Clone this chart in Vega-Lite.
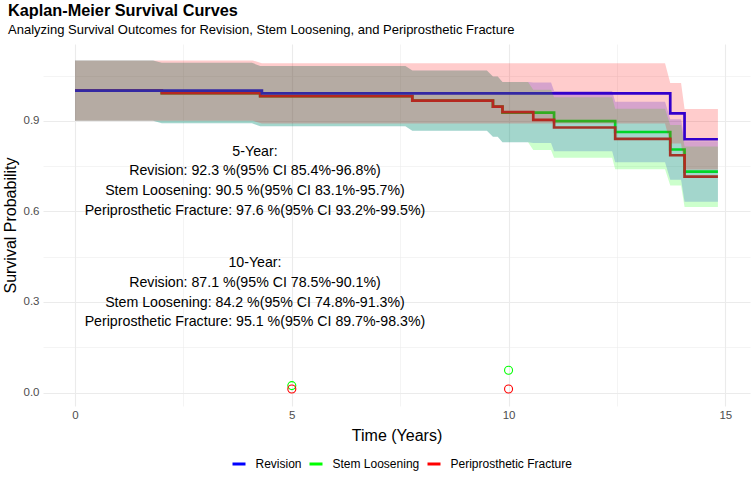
{
  "$schema": "https://vega.github.io/schema/vega-lite/v6.json",
  "width": 707,
  "height": 362,
  "autosize": {"type": "none"},
  "padding": {"left": 43, "top": 44, "right": 3, "bottom": 77},
  "background": "white",
  "config": {"view": {"stroke": null}},
  "title": {
    "text": "Kaplan-Meier Survival Curves",
    "subtitle": "Analyzing Survival Outcomes for Revision, Stem Loosening, and Periprosthetic Fracture",
    "anchor": "start",
    "frame": "group",
    "dx": -35,
    "offset": 7,
    "font": "Liberation Sans",
    "fontSize": 16.3,
    "fontWeight": "bold",
    "color": "black",
    "subtitleFont": "Liberation Sans",
    "subtitleFontSize": 13,
    "subtitleColor": "black",
    "subtitlePadding": 5
  },
  "datasets": {
    "lines": [
      {"series": "Stem Loosening", "t": 0, "y": 1.0},
      {"series": "Stem Loosening", "t": 2.0, "y": 0.992},
      {"series": "Stem Loosening", "t": 4.27, "y": 0.982},
      {"series": "Stem Loosening", "t": 7.78, "y": 0.967},
      {"series": "Stem Loosening", "t": 9.64, "y": 0.947},
      {"series": "Stem Loosening", "t": 9.86, "y": 0.927},
      {"series": "Stem Loosening", "t": 11.05, "y": 0.899},
      {"series": "Stem Loosening", "t": 12.46, "y": 0.863},
      {"series": "Stem Loosening", "t": 13.73, "y": 0.805},
      {"series": "Stem Loosening", "t": 14.06, "y": 0.732},
      {"series": "Stem Loosening", "t": 14.83, "y": 0.732},
      {"series": "Periprosthetic Fracture", "t": 0, "y": 1.0},
      {"series": "Periprosthetic Fracture", "t": 2.0, "y": 0.992},
      {"series": "Periprosthetic Fracture", "t": 4.27, "y": 0.982},
      {"series": "Periprosthetic Fracture", "t": 7.78, "y": 0.967},
      {"series": "Periprosthetic Fracture", "t": 9.64, "y": 0.947},
      {"series": "Periprosthetic Fracture", "t": 9.86, "y": 0.929},
      {"series": "Periprosthetic Fracture", "t": 10.57, "y": 0.903},
      {"series": "Periprosthetic Fracture", "t": 11.05, "y": 0.878},
      {"series": "Periprosthetic Fracture", "t": 12.46, "y": 0.84},
      {"series": "Periprosthetic Fracture", "t": 13.73, "y": 0.786},
      {"series": "Periprosthetic Fracture", "t": 14.06, "y": 0.715},
      {"series": "Periprosthetic Fracture", "t": 14.83, "y": 0.715},
      {"series": "Revision", "t": 0, "y": 1.0},
      {"series": "Revision", "t": 4.31, "y": 0.991},
      {"series": "Revision", "t": 13.73, "y": 0.925},
      {"series": "Revision", "t": 14.06, "y": 0.839},
      {"series": "Revision", "t": 14.83, "y": 0.839}
    ],
    "ribbons": [
      {"series": "Revision", "t": 0, "lo": 0.9, "hi": 1.1},
      {"series": "Revision", "t": 4.1, "lo": 0.9, "hi": 1.1},
      {"series": "Revision", "t": 4.31, "lo": 0.891, "hi": 1.091},
      {"series": "Revision", "t": 13.61, "lo": 0.891, "hi": 1.091},
      {"series": "Revision", "t": 13.73, "lo": 0.825, "hi": 1.025},
      {"series": "Revision", "t": 13.98, "lo": 0.825, "hi": 1.025},
      {"series": "Revision", "t": 14.06, "lo": 0.739, "hi": 0.939},
      {"series": "Revision", "t": 14.83, "lo": 0.739, "hi": 0.939},
      {"series": "Periprosthetic Fracture", "t": 0, "lo": 0.9, "hi": 1.1},
      {"series": "Periprosthetic Fracture", "t": 1.8, "lo": 0.9, "hi": 1.1},
      {"series": "Periprosthetic Fracture", "t": 2.0, "lo": 0.892, "hi": 1.092},
      {"series": "Periprosthetic Fracture", "t": 4.08, "lo": 0.892, "hi": 1.092},
      {"series": "Periprosthetic Fracture", "t": 4.27, "lo": 0.882, "hi": 1.082},
      {"series": "Periprosthetic Fracture", "t": 7.62, "lo": 0.882, "hi": 1.082},
      {"series": "Periprosthetic Fracture", "t": 7.78, "lo": 0.867, "hi": 1.067},
      {"series": "Periprosthetic Fracture", "t": 9.5, "lo": 0.867, "hi": 1.067},
      {"series": "Periprosthetic Fracture", "t": 9.64, "lo": 0.847, "hi": 1.047},
      {"series": "Periprosthetic Fracture", "t": 9.75, "lo": 0.847, "hi": 1.047},
      {"series": "Periprosthetic Fracture", "t": 9.86, "lo": 0.829, "hi": 1.029},
      {"series": "Periprosthetic Fracture", "t": 10.45, "lo": 0.829, "hi": 1.029},
      {"series": "Periprosthetic Fracture", "t": 10.57, "lo": 0.803, "hi": 1.003},
      {"series": "Periprosthetic Fracture", "t": 10.98, "lo": 0.803, "hi": 1.003},
      {"series": "Periprosthetic Fracture", "t": 11.05, "lo": 0.778, "hi": 0.978},
      {"series": "Periprosthetic Fracture", "t": 12.39, "lo": 0.778, "hi": 0.978},
      {"series": "Periprosthetic Fracture", "t": 12.46, "lo": 0.74, "hi": 0.94},
      {"series": "Periprosthetic Fracture", "t": 13.61, "lo": 0.74, "hi": 0.94},
      {"series": "Periprosthetic Fracture", "t": 13.73, "lo": 0.686, "hi": 0.886},
      {"series": "Periprosthetic Fracture", "t": 13.98, "lo": 0.686, "hi": 0.886},
      {"series": "Periprosthetic Fracture", "t": 14.06, "lo": 0.615, "hi": 0.815},
      {"series": "Periprosthetic Fracture", "t": 14.83, "lo": 0.615, "hi": 0.815},
      {"series": "Stem Loosening", "t": 0, "lo": 0.9, "hi": 1.1},
      {"series": "Stem Loosening", "t": 1.8, "lo": 0.9, "hi": 1.1},
      {"series": "Stem Loosening", "t": 2.0, "lo": 0.892, "hi": 1.092},
      {"series": "Stem Loosening", "t": 4.08, "lo": 0.892, "hi": 1.092},
      {"series": "Stem Loosening", "t": 4.27, "lo": 0.882, "hi": 1.082},
      {"series": "Stem Loosening", "t": 7.62, "lo": 0.882, "hi": 1.082},
      {"series": "Stem Loosening", "t": 7.78, "lo": 0.867, "hi": 1.067},
      {"series": "Stem Loosening", "t": 9.5, "lo": 0.867, "hi": 1.067},
      {"series": "Stem Loosening", "t": 9.64, "lo": 0.847, "hi": 1.047},
      {"series": "Stem Loosening", "t": 9.75, "lo": 0.847, "hi": 1.047},
      {"series": "Stem Loosening", "t": 9.86, "lo": 0.829, "hi": 1.029},
      {"series": "Stem Loosening", "t": 10.45, "lo": 0.829, "hi": 1.029},
      {"series": "Stem Loosening", "t": 10.57, "lo": 0.827, "hi": 1.027},
      {"series": "Stem Loosening", "t": 10.98, "lo": 0.827, "hi": 1.027},
      {"series": "Stem Loosening", "t": 11.05, "lo": 0.799, "hi": 0.999},
      {"series": "Stem Loosening", "t": 12.39, "lo": 0.799, "hi": 0.999},
      {"series": "Stem Loosening", "t": 12.46, "lo": 0.763, "hi": 0.963},
      {"series": "Stem Loosening", "t": 13.61, "lo": 0.763, "hi": 0.963},
      {"series": "Stem Loosening", "t": 13.73, "lo": 0.705, "hi": 0.905},
      {"series": "Stem Loosening", "t": 13.98, "lo": 0.705, "hi": 0.905},
      {"series": "Stem Loosening", "t": 14.06, "lo": 0.632, "hi": 0.832},
      {"series": "Stem Loosening", "t": 14.83, "lo": 0.632, "hi": 0.832}
    ],
    "points": [
      {"series": "Stem Loosening", "t": 5, "y": 0.023},
      {"series": "Stem Loosening", "t": 10, "y": 0.074},
      {"series": "Periprosthetic Fracture", "t": 5, "y": 0.012},
      {"series": "Periprosthetic Fracture", "t": 10, "y": 0.012}
    ],
    "notes": [
      {"t": 4.15, "y": 0.7, "label": "5-Year:\nRevision: 92.3 %(95% CI 85.4%-96.8%)\nStem Loosening: 90.5 %(95% CI 83.1%-95.7%)\nPeriprosthetic Fracture: 97.6 %(95% CI 93.2%-99.5%)"},
      {"t": 4.15, "y": 0.331, "label": "10-Year:\nRevision: 87.1 %(95% CI 78.5%-90.1%)\nStem Loosening: 84.2 %(95% CI 74.8%-91.3%)\nPeriprosthetic Fracture: 95.1 %(95% CI 89.7%-98.3%)"}
    ]
  },
  "encoding": {
    "x": {
      "field": "t",
      "type": "quantitative",
      "title": "Time (Years)",
      "scale": {"domain": [-0.74, 15.57], "nice": false, "zero": false},
      "axis": {
        "values": [0, 2.5, 5, 7.5, 10, 12.5, 15],
        "labelExpr": "datum.value % 5 === 0 ? datum.label : ''",
        "grid": true,
        "gridColor": "#EBEBEB",
        "gridWidth": {"condition": {"test": "datum.value % 5 === 0", "value": 1.1}, "value": 0.55},
        "domain": false,
        "ticks": false,
        "labelColor": "#4D4D4D",
        "labelFont": "Liberation Sans",
        "labelFontSize": 11.5,
        "labelPadding": 3,
        "titleFont": "Liberation Sans",
        "titleFontSize": 16,
        "titleFontWeight": "normal",
        "titleColor": "black",
        "titlePadding": 7
      }
    },
    "y": {
      "field": "y",
      "type": "quantitative",
      "title": "Survival Probability",
      "scale": {"domain": [-0.0445, 1.1545], "nice": false, "zero": false},
      "axis": {
        "values": [0, 0.15, 0.3, 0.45, 0.6, 0.75, 0.9, 1.05],
        "labelExpr": "(datum.value === 0 || datum.value === 0.3 || datum.value === 0.6 || datum.value === 0.9) ? format(datum.value, '.1f') : ''",
        "grid": true,
        "gridColor": "#EBEBEB",
        "gridWidth": {"condition": {"test": "datum.value === 0 || datum.value === 0.3 || datum.value === 0.6 || datum.value === 0.9", "value": 1.1}, "value": 0.55},
        "domain": false,
        "ticks": false,
        "labelColor": "#4D4D4D",
        "labelFont": "Liberation Sans",
        "labelFontSize": 11.5,
        "labelPadding": 4,
        "titleFont": "Liberation Sans",
        "titleFontSize": 16,
        "titleFontWeight": "normal",
        "titleColor": "black",
        "titlePadding": 5
      }
    }
  },
  "layer": [
    {
      "data": {"name": "lines"},
      "transform": [{"filter": "datum.series === 'Stem Loosening'"}],
      "mark": {"type": "line", "interpolate": "step-after", "strokeWidth": 2.7},
      "encoding": {
        "color": {
          "field": "series",
          "type": "nominal",
          "scale": {"domain": ["Revision", "Stem Loosening", "Periprosthetic Fracture"], "range": ["#0000FF", "#00FF00", "#FF0000"]},
          "legend": {
            "orient": "none",
            "legendX": 188,
            "legendY": 412,
            "direction": "horizontal",
            "title": null,
            "symbolType": "stroke",
            "symbolStrokeWidth": 3,
            "symbolSize": 169,
            "labelFont": "Liberation Sans",
            "labelFontSize": 12,
            "labelColor": "black",
            "labelOffset": 8.5,
            "columnPadding": 1
          }
        }
      }
    },
    {
      "data": {"name": "lines"},
      "transform": [{"filter": "datum.series === 'Periprosthetic Fracture'"}],
      "mark": {"type": "line", "interpolate": "step-after", "strokeWidth": 2.7},
      "encoding": {"color": {"field": "series", "type": "nominal"}}
    },
    {
      "data": {"name": "lines"},
      "transform": [{"filter": "datum.series === 'Revision'"}],
      "mark": {"type": "line", "interpolate": "step-after", "strokeWidth": 2.7},
      "encoding": {"color": {"field": "series", "type": "nominal"}}
    },
    {
      "data": {"name": "ribbons"},
      "transform": [{"filter": "datum.series === 'Stem Loosening'"}],
      "mark": {"type": "area", "interpolate": "linear", "fillOpacity": 0.2, "color": "#0000FF"},
      "encoding": {
        "y": {"field": "lo", "type": "quantitative", "title": "Survival Probability", "scale": {"domain": [-0.0445, 1.1545], "nice": false, "zero": false}},
        "y2": {"field": "hi"}
      }
    },
    {
      "data": {"name": "ribbons"},
      "transform": [{"filter": "datum.series === 'Periprosthetic Fracture'"}],
      "mark": {"type": "area", "interpolate": "linear", "fillOpacity": 0.2, "color": "#00FF00"},
      "encoding": {
        "y": {"field": "lo", "type": "quantitative", "title": "Survival Probability", "scale": {"domain": [-0.0445, 1.1545], "nice": false, "zero": false}},
        "y2": {"field": "hi"}
      }
    },
    {
      "data": {"name": "ribbons"},
      "transform": [{"filter": "datum.series === 'Revision'"}],
      "mark": {"type": "area", "interpolate": "linear", "fillOpacity": 0.2, "color": "#FF0000"},
      "encoding": {
        "y": {"field": "lo", "type": "quantitative", "title": "Survival Probability", "scale": {"domain": [-0.0445, 1.1545], "nice": false, "zero": false}},
        "y2": {"field": "hi"}
      }
    },
    {
      "data": {"name": "points"},
      "transform": [{"filter": "datum.series === 'Stem Loosening'"}],
      "mark": {"type": "point", "filled": false, "size": 64, "strokeWidth": 1.1, "color": "#00FF00", "opacity": 1}
    },
    {
      "data": {"name": "points"},
      "transform": [{"filter": "datum.series === 'Periprosthetic Fracture'"}],
      "mark": {"type": "point", "filled": false, "size": 64, "strokeWidth": 1.1, "color": "#FF0000", "opacity": 1}
    },
    {
      "data": {"name": "notes"},
      "mark": {"type": "text", "lineBreak": "\n", "lineHeight": 19.8, "dy": -29.7, "font": "Liberation Sans", "fontSize": 14.2, "color": "black", "align": "center", "baseline": "middle"},
      "encoding": {"text": {"field": "label", "type": "nominal"}}
    }
  ]
}
